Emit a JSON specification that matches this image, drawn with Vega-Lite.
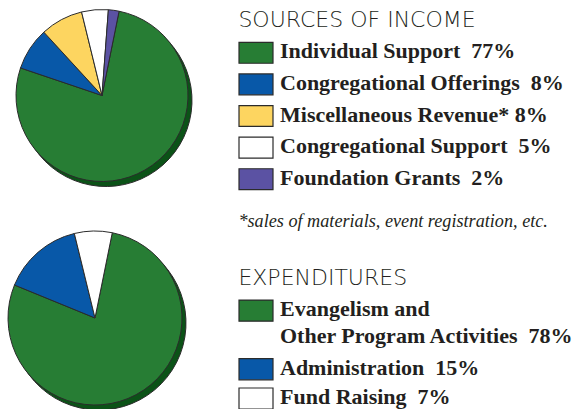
{
  "$schema": "https://vega.github.io/schema/vega-lite/v6.json",
  "padding": {"top": 7, "left": 0, "right": 0, "bottom": 0},
  "background": "white",
  "spacing": 34,
  "datasets": {
    "income": [
      {"category": "Individual Support", "value": 77, "label": "Individual Support \u00a077%"},
      {"category": "Congregational Offerings", "value": 8, "label": "Congregational Offerings \u00a08%"},
      {"category": "Miscellaneous Revenue", "value": 8, "label": "Miscellaneous Revenue* 8%"},
      {"category": "Congregational Support", "value": 5, "label": "Congregational Support \u00a05%"},
      {"category": "Foundation Grants", "value": 2, "label": "Foundation Grants \u00a02%"}
    ],
    "expenditures": [
      {"category": "Evangelism and Other Program Activities", "value": 78, "label": "Evangelism and\nOther Program Activities \u00a078%"},
      {"category": "Administration", "value": 15, "label": "Administration \u00a015%"},
      {"category": "Fund Raising", "value": 7, "label": "Fund Raising \u00a07%"}
    ]
  },
  "hconcat": [
    {
      "spacing": 40,
      "resolve": {"scale": {"theta": "independent"}},
      "vconcat": [
        {
          "width": 204,
          "height": 117,
          "data": {"name": "income"},
          "encoding": {
            "theta": {"field": "value", "type": "quantitative", "stack": true, "scale": {"range": [0.2, 6.4832]}},
            "order": {"field": "value", "sort": "descending"}
          },
          "layer": [
            {
              "mark": {"type": "arc", "radius": 86, "xOffset": 4, "yOffset": 5, "fill": "#0b5217", "stroke": "#2b2b2b", "strokeWidth": 1}
            },
            {
              "mark": {"type": "arc", "radius": 86, "stroke": "#2b2b2b", "strokeWidth": 1},
              "encoding": {
                "color": {
                  "field": "category", "type": "nominal", "legend": null,
                  "scale": {
                    "domain": ["Individual Support", "Congregational Offerings", "Miscellaneous Revenue", "Congregational Support", "Foundation Grants", "Evangelism and Other Program Activities", "Administration", "Fund Raising"],
                    "range": ["#277d34", "#0858a8", "#fdd560", "#ffffff", "#5b52a3", "#277d34", "#0858a8", "#ffffff"]
                  }
                }
              }
            }
          ]
        },
        {
          "width": 190,
          "height": 174,
          "data": {"name": "expenditures"},
          "encoding": {
            "theta": {"field": "value", "type": "quantitative", "stack": true, "scale": {"range": [0.2, 6.4832]}},
            "order": {"field": "value", "sort": "descending"}
          },
          "layer": [
            {
              "mark": {"type": "arc", "radius": 87, "xOffset": 4, "yOffset": 5, "fill": "#0b5217", "stroke": "#2b2b2b", "strokeWidth": 1}
            },
            {
              "mark": {"type": "arc", "radius": 87, "stroke": "#2b2b2b", "strokeWidth": 1},
              "encoding": {
                "color": {
                  "field": "category", "type": "nominal", "legend": null,
                  "scale": {
                    "domain": ["Individual Support", "Congregational Offerings", "Miscellaneous Revenue", "Congregational Support", "Foundation Grants", "Evangelism and Other Program Activities", "Administration", "Fund Raising"],
                    "range": ["#277d34", "#0858a8", "#fdd560", "#ffffff", "#5b52a3", "#277d34", "#0858a8", "#ffffff"]
                  }
                }
              }
            }
          ]
        }
      ]
    },
    {
      "spacing": 16,
      "resolve": {"scale": {"y": "independent"}},
      "vconcat": [
        {
          "width": 34,
          "height": 158,
          "data": {"name": "income"},
          "title": {
            "text": "SOURCES OF INCOME", "anchor": "start", "font": "DejaVu Sans", "fontSize": 22, "fontWeight": 200,
            "color": "#231f20", "offset": 5
          },
          "encoding": {
            "y": {
              "field": "category", "type": "nominal", "axis": null,
              "scale": {
                "domain": ["Individual Support", "Congregational Offerings", "Miscellaneous Revenue", "Congregational Support", "Foundation Grants"],
                "paddingInner": 0.34, "paddingOuter": 0.17
              }
            }
          },
          "layer": [
            {
              "mark": {"type": "rect", "stroke": "#2b2b2b", "strokeWidth": 1.2},
              "encoding": {
                "color": {
                  "field": "category", "type": "nominal", "legend": null,
                  "scale": {
                    "domain": ["Individual Support", "Congregational Offerings", "Miscellaneous Revenue", "Congregational Support", "Foundation Grants", "Evangelism and Other Program Activities", "Administration", "Fund Raising"],
                    "range": ["#277d34", "#0858a8", "#fdd560", "#ffffff", "#5b52a3", "#277d34", "#0858a8", "#ffffff"]
                  }
                }
              }
            },
            {
              "mark": {"type": "text", "align": "left", "baseline": "alphabetic", "dx": 24, "dy": 5.5, "font": "Liberation Serif", "fontWeight": "bold", "fontSize": 22, "color": "#231f20"},
              "encoding": {"text": {"field": "label"}}
            }
          ]
        },
        {
          "width": 34,
          "height": 117.2,
          "data": {"name": "expenditures"},
          "title": {
            "text": "\u00a0*sales of materials, event registration, etc.", "anchor": "start", "font": "Liberation Serif", "fontStyle": "italic", "fontWeight": "normal", "fontSize": 18.2,
            "color": "#231f20",
            "subtitle": "EXPENDITURES", "subtitleFont": "DejaVu Sans", "subtitleFontSize": 22, "subtitleFontWeight": 200, "subtitleColor": "#231f20",
            "subtitlePadding": 37, "offset": 6
          },
          "encoding": {
            "y": {
              "field": "category", "type": "nominal", "axis": null,
              "scale": {
                "domain": ["Evangelism and Other Program Activities", "gap", "Administration", "Fund Raising"],
                "paddingInner": 0.28, "paddingOuter": 0.14
              }
            }
          },
          "layer": [
            {
              "mark": {"type": "rect", "stroke": "#2b2b2b", "strokeWidth": 1.2},
              "encoding": {
                "color": {
                  "field": "category", "type": "nominal", "legend": null,
                  "scale": {
                    "domain": ["Individual Support", "Congregational Offerings", "Miscellaneous Revenue", "Congregational Support", "Foundation Grants", "Evangelism and Other Program Activities", "Administration", "Fund Raising"],
                    "range": ["#277d34", "#0858a8", "#fdd560", "#ffffff", "#5b52a3", "#277d34", "#0858a8", "#ffffff"]
                  }
                }
              }
            },
            {
              "mark": {"type": "text", "align": "left", "baseline": "alphabetic", "dx": 24, "dy": 5.5, "lineBreak": "\n", "lineHeight": 27, "font": "Liberation Serif", "fontWeight": "bold", "fontSize": 22, "color": "#231f20"},
              "encoding": {"text": {"field": "label"}}
            }
          ]
        }
      ]
    }
  ],
  "config": {
    "view": {"stroke": null}
  }
}
